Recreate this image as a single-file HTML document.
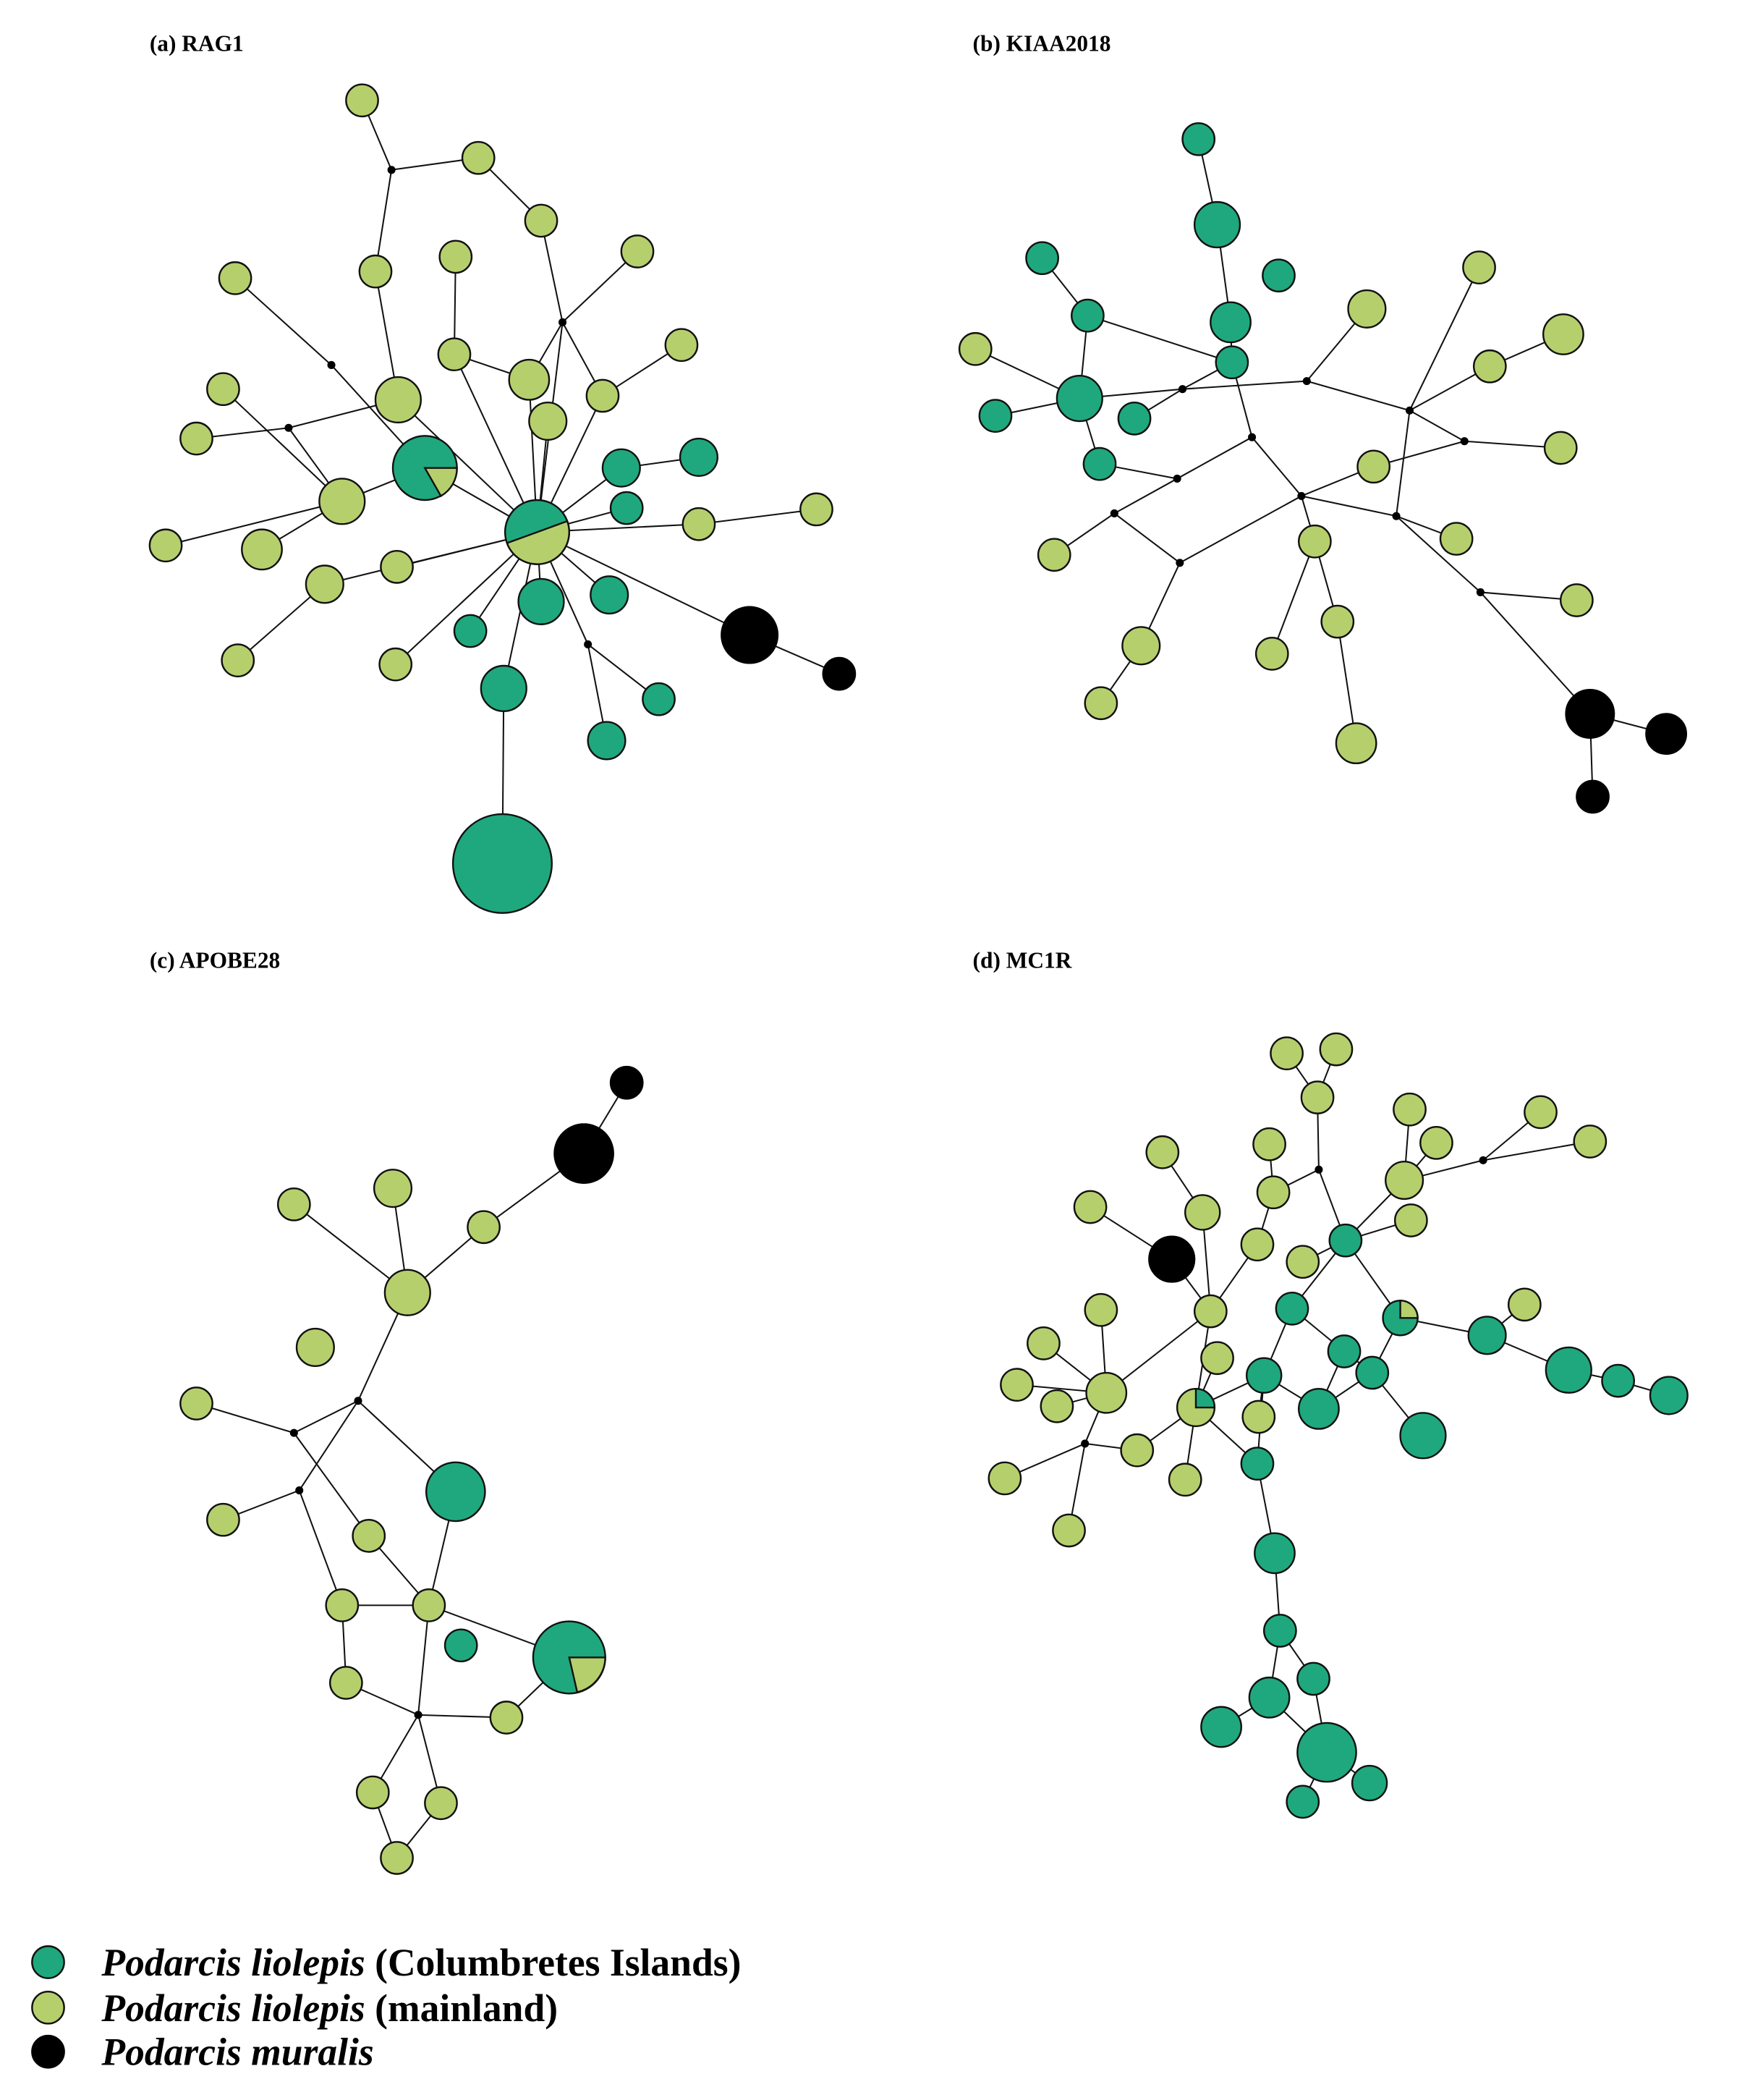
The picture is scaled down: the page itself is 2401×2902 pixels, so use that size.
<!DOCTYPE html>
<html><head><meta charset="utf-8"><style>
html,body{margin:0;padding:0;background:#fff;}
svg{display:block}
.l{fill:#b6cf6d;stroke:#111;stroke-width:1.3}
.t{fill:#1fa87d;stroke:#111;stroke-width:1.3}
.k{fill:#000;stroke:#000;stroke-width:1.3}
line{stroke:#111;stroke-width:1.1}
.j{fill:#000}
.title{font-family:"Liberation Serif",serif;font-weight:bold;font-size:17px}
.leg{font-family:"Liberation Serif",serif;font-weight:bold;font-size:29px}
</style></head><body>
<svg width="2401" height="2902" viewBox="0 0 1300 1571" xmlns="http://www.w3.org/2000/svg">
<text class="title" x="112" y="38">(a) RAG1</text>
<text class="title" x="728" y="38">(b) KIAA2018</text>
<text class="title" x="112" y="724">(c) APOBE28</text>
<text class="title" x="728" y="724">(d) MC1R</text>

<!-- panel a edges -->
<g>
<line x1="271" y1="75" x2="293" y2="127"/><line x1="293" y1="127" x2="358" y2="118"/><line x1="358" y1="118" x2="405" y2="165"/>
<line x1="293" y1="127" x2="281" y2="203"/><line x1="281" y1="203" x2="298" y2="299"/><line x1="405" y1="165" x2="421" y2="241"/>
<line x1="421" y1="241" x2="477" y2="188"/><line x1="421" y1="241" x2="396" y2="284"/><line x1="421" y1="241" x2="451" y2="296"/>
<line x1="421" y1="241" x2="402" y2="398"/><line x1="341" y1="192" x2="340" y2="265"/><line x1="340" y1="265" x2="396" y2="284"/>
<line x1="340" y1="265" x2="402" y2="398"/><line x1="176" y1="208" x2="248" y2="273"/><line x1="248" y1="273" x2="318" y2="350"/>
<line x1="167" y1="291" x2="256" y2="375"/><line x1="216" y1="320" x2="147" y2="328"/><line x1="216" y1="320" x2="256" y2="375"/>
<line x1="216" y1="320" x2="298" y2="299"/><line x1="124" y1="408" x2="256" y2="375"/><line x1="196" y1="411" x2="256" y2="375"/>
<line x1="256" y1="375" x2="318" y2="350"/><line x1="318" y1="350" x2="402" y2="398"/><line x1="243" y1="437" x2="402" y2="398"/>
<line x1="297" y1="424" x2="402" y2="398"/><line x1="178" y1="494" x2="243" y2="437"/><line x1="296" y1="497" x2="402" y2="398"/>
<line x1="352" y1="472" x2="402" y2="398"/><line x1="377" y1="515" x2="402" y2="398"/><line x1="376" y1="646" x2="377" y2="515"/>
<line x1="405" y1="450" x2="402" y2="398"/><line x1="456" y1="445" x2="402" y2="398"/><line x1="440" y1="482" x2="402" y2="398"/>
<line x1="440" y1="482" x2="454" y2="554"/><line x1="440" y1="482" x2="493" y2="523"/><line x1="561" y1="475" x2="402" y2="398"/>
<line x1="561" y1="475" x2="628" y2="504"/><line x1="523" y1="392" x2="402" y2="398"/><line x1="611" y1="381" x2="523" y2="392"/>
<line x1="465" y1="350" x2="402" y2="398"/><line x1="465" y1="350" x2="523" y2="342"/><line x1="469" y1="380" x2="402" y2="398"/>
<line x1="510" y1="258" x2="451" y2="296"/><line x1="451" y1="296" x2="402" y2="398"/><line x1="410" y1="315" x2="402" y2="398"/>
<line x1="396" y1="284" x2="402" y2="398"/><line x1="298" y1="299" x2="402" y2="398"/>
</g>
<g class="j"><circle cx="293" cy="127" r="3"/><circle cx="248" cy="273" r="3"/><circle cx="216" cy="320" r="3"/><circle cx="421" cy="241" r="3"/><circle cx="440" cy="482" r="3"/></g>
<g>
<circle class="l" cx="271" cy="75" r="12"/><circle class="l" cx="358" cy="118" r="12"/><circle class="l" cx="405" cy="165" r="12"/>
<circle class="l" cx="176" cy="208" r="12"/><circle class="l" cx="281" cy="203" r="12"/><circle class="l" cx="341" cy="192" r="12"/>
<circle class="l" cx="477" cy="188" r="12"/><circle class="l" cx="510" cy="258" r="12"/><circle class="l" cx="340" cy="265" r="12"/>
<circle class="l" cx="396" cy="284" r="15"/><circle class="l" cx="451" cy="296" r="12"/><circle class="l" cx="410" cy="315" r="14"/>
<circle class="l" cx="298" cy="299" r="17"/><circle class="l" cx="167" cy="291" r="12"/><circle class="l" cx="147" cy="328" r="12"/>
<circle class="l" cx="256" cy="375" r="17"/><circle class="l" cx="124" cy="408" r="12"/><circle class="l" cx="196" cy="411" r="15"/>
<circle class="l" cx="243" cy="437" r="14"/><circle class="l" cx="297" cy="424" r="12"/><circle class="l" cx="178" cy="494" r="12"/>
<circle class="l" cx="296" cy="497" r="12"/><circle class="l" cx="523" cy="392" r="12"/><circle class="l" cx="611" cy="381" r="12"/>
<circle class="t" cx="465" cy="350" r="14"/><circle class="t" cx="523" cy="342" r="14"/><circle class="t" cx="469" cy="380" r="12"/>
<circle class="t" cx="405" cy="450" r="17"/><circle class="t" cx="456" cy="445" r="14"/><circle class="t" cx="352" cy="472" r="12"/>
<circle class="t" cx="377" cy="515" r="17"/><circle class="t" cx="493" cy="523" r="12"/><circle class="t" cx="454" cy="554" r="14"/>
<circle class="t" cx="376" cy="646" r="37"/>
<circle class="k" cx="561" cy="475" r="21"/><circle class="k" cx="628" cy="504" r="12"/>
<circle class="t" cx="402" cy="398" r="24"/><path class="l" d="M378,398 A24,24 0 0,0 426,398 L402,398 Z" transform="rotate(-20 402 398)"/>
<circle class="t" cx="318" cy="350" r="24"/><path class="l" d="M318,350 L342,350 A24,24 0 0,1 330,371 Z"/>
</g>

<!-- panel b -->
<g>
<line x1="897" y1="104" x2="911" y2="168"/><line x1="911" y1="168" x2="921" y2="241"/><line x1="921" y1="241" x2="922" y2="271"/>
<line x1="780" y1="193" x2="814" y2="236"/><line x1="814" y1="236" x2="808" y2="298"/><line x1="814" y1="236" x2="922" y2="271"/>
<line x1="730" y1="261" x2="808" y2="298"/><line x1="745" y1="311" x2="808" y2="298"/><line x1="808" y1="298" x2="885" y2="291"/>
<line x1="849" y1="313" x2="885" y2="291"/><line x1="808" y1="298" x2="823" y2="347"/><line x1="823" y1="347" x2="881" y2="358"/>
<line x1="885" y1="291" x2="922" y2="271"/><line x1="885" y1="291" x2="978" y2="285"/><line x1="978" y1="285" x2="1023" y2="231"/>
<line x1="978" y1="285" x2="1055" y2="307"/><line x1="1055" y1="307" x2="1107" y2="200"/><line x1="1055" y1="307" x2="1115" y2="274"/>
<line x1="1115" y1="274" x2="1170" y2="250"/><line x1="1055" y1="307" x2="1096" y2="330"/><line x1="1096" y1="330" x2="1168" y2="335"/>
<line x1="1096" y1="330" x2="1028" y2="349"/><line x1="1055" y1="307" x2="1045" y2="386"/><line x1="937" y1="327" x2="881" y2="358"/>
<line x1="881" y1="358" x2="834" y2="384"/><line x1="834" y1="384" x2="789" y2="415"/><line x1="834" y1="384" x2="883" y2="421"/>
<line x1="883" y1="421" x2="974" y2="371"/><line x1="883" y1="421" x2="854" y2="483"/><line x1="854" y1="483" x2="824" y2="526"/>
<line x1="937" y1="327" x2="974" y2="371"/><line x1="974" y1="371" x2="1045" y2="386"/><line x1="974" y1="371" x2="984" y2="405"/>
<line x1="984" y1="405" x2="952" y2="489"/><line x1="984" y1="405" x2="1001" y2="465"/><line x1="1001" y1="465" x2="1015" y2="556"/>
<line x1="1045" y1="386" x2="1090" y2="403"/><line x1="1045" y1="386" x2="1108" y2="443"/><line x1="1108" y1="443" x2="1180" y2="449"/>
<line x1="1108" y1="443" x2="1190" y2="534"/><line x1="1190" y1="534" x2="1247" y2="549"/><line x1="1190" y1="534" x2="1192" y2="596"/>
<line x1="937" y1="327" x2="922" y2="271"/><line x1="1028" y1="349" x2="974" y2="371"/>
</g>
<g class="j"><circle cx="885" cy="291" r="3"/><circle cx="978" cy="285" r="3"/><circle cx="1055" cy="307" r="3"/><circle cx="937" cy="327" r="3"/><circle cx="881" cy="358" r="3"/><circle cx="1096" cy="330" r="3"/><circle cx="974" cy="371" r="3"/><circle cx="834" cy="384" r="3"/><circle cx="1045" cy="386" r="3"/><circle cx="883" cy="421" r="3"/><circle cx="1108" cy="443" r="3"/></g>
<g>
<circle class="t" cx="897" cy="104" r="12"/><circle class="t" cx="911" cy="168" r="17"/><circle class="t" cx="780" cy="193" r="12"/>
<circle class="t" cx="957" cy="206" r="12"/><circle class="t" cx="814" cy="236" r="12"/><circle class="t" cx="921" cy="241" r="15"/>
<circle class="t" cx="922" cy="271" r="12"/><circle class="t" cx="808" cy="298" r="17"/><circle class="t" cx="745" cy="311" r="12"/>
<circle class="t" cx="849" cy="313" r="12"/><circle class="t" cx="823" cy="347" r="12"/>
<circle class="l" cx="730" cy="261" r="12"/><circle class="l" cx="1023" cy="231" r="14"/><circle class="l" cx="1107" cy="200" r="12"/>
<circle class="l" cx="1170" cy="250" r="15"/><circle class="l" cx="1115" cy="274" r="12"/><circle class="l" cx="1168" cy="335" r="12"/>
<circle class="l" cx="1028" cy="349" r="12"/><circle class="l" cx="789" cy="415" r="12"/><circle class="l" cx="984" cy="405" r="12"/>
<circle class="l" cx="1090" cy="403" r="12"/><circle class="l" cx="1001" cy="465" r="12"/><circle class="l" cx="1180" cy="449" r="12"/>
<circle class="l" cx="854" cy="483" r="14"/><circle class="l" cx="952" cy="489" r="12"/><circle class="l" cx="824" cy="526" r="12"/>
<circle class="l" cx="1015" cy="556" r="15"/>
<circle class="k" cx="1190" cy="534" r="18"/><circle class="k" cx="1247" cy="549" r="15"/><circle class="k" cx="1192" cy="596" r="12"/>
</g>

<!-- panel c -->
<g>
<line x1="469" y1="810" x2="437" y2="863"/><line x1="437" y1="863" x2="362" y2="918"/><line x1="362" y1="918" x2="305" y2="967"/>
<line x1="294" y1="889" x2="305" y2="967"/><line x1="220" y1="901" x2="305" y2="967"/><line x1="305" y1="967" x2="268" y2="1048"/>
<line x1="268" y1="1048" x2="220" y2="1072"/><line x1="220" y1="1072" x2="147" y2="1050"/><line x1="268" y1="1048" x2="224" y2="1115"/>
<line x1="224" y1="1115" x2="167" y2="1137"/><line x1="268" y1="1048" x2="341" y2="1116"/><line x1="341" y1="1116" x2="321" y2="1201"/>
<line x1="224" y1="1115" x2="256" y2="1201"/><line x1="220" y1="1072" x2="276" y2="1149"/><line x1="276" y1="1149" x2="321" y2="1201"/>
<line x1="256" y1="1201" x2="321" y2="1201"/><line x1="256" y1="1201" x2="259" y2="1259"/><line x1="321" y1="1201" x2="426" y2="1240"/>
<line x1="321" y1="1201" x2="313" y2="1283"/><line x1="313" y1="1283" x2="259" y2="1259"/><line x1="313" y1="1283" x2="379" y2="1285"/>
<line x1="379" y1="1285" x2="426" y2="1240"/><line x1="313" y1="1283" x2="279" y2="1341"/><line x1="313" y1="1283" x2="330" y2="1349"/>
<line x1="279" y1="1341" x2="297" y2="1390"/><line x1="330" y1="1349" x2="297" y2="1390"/>
</g>
<g class="j"><circle cx="268" cy="1048" r="3"/><circle cx="220" cy="1072" r="3"/><circle cx="224" cy="1115" r="3"/><circle cx="313" cy="1283" r="3"/></g>
<g>
<circle class="k" cx="437" cy="863" r="22"/><circle class="k" cx="469" cy="810" r="12"/>
<circle class="l" cx="220" cy="901" r="12"/><circle class="l" cx="294" cy="889" r="14"/><circle class="l" cx="362" cy="918" r="12"/>
<circle class="l" cx="305" cy="967" r="17"/><circle class="l" cx="236" cy="1008" r="14"/><circle class="l" cx="147" cy="1050" r="12"/>
<circle class="l" cx="167" cy="1137" r="12"/><circle class="l" cx="276" cy="1149" r="12"/><circle class="l" cx="256" cy="1201" r="12"/>
<circle class="l" cx="321" cy="1201" r="12"/><circle class="l" cx="259" cy="1259" r="12"/><circle class="l" cx="379" cy="1285" r="12"/>
<circle class="l" cx="279" cy="1341" r="12"/><circle class="l" cx="330" cy="1349" r="12"/><circle class="l" cx="297" cy="1390" r="12"/>
<circle class="t" cx="341" cy="1116" r="22"/><circle class="t" cx="345" cy="1231" r="12"/>
<circle class="t" cx="426" cy="1240" r="27"/><path class="l" d="M426,1240 L453,1240 A27,27 0 0,1 432,1266 Z"/>
</g>

<!-- panel d -->
<g>
<line x1="963" y1="788" x2="986" y2="821"/><line x1="1000" y1="785" x2="986" y2="821"/><line x1="986" y1="821" x2="987" y2="875"/>
<line x1="987" y1="875" x2="1007" y2="928"/><line x1="987" y1="875" x2="953" y2="892"/><line x1="950" y1="856" x2="953" y2="892"/>
<line x1="953" y1="892" x2="941" y2="931"/><line x1="941" y1="931" x2="906" y2="981"/><line x1="870" y1="862" x2="900" y2="907"/>
<line x1="900" y1="907" x2="906" y2="981"/><line x1="816" y1="903" x2="877" y2="942"/><line x1="877" y1="942" x2="906" y2="981"/>
<line x1="1055" y1="830" x2="1051" y2="883"/><line x1="1075" y1="855" x2="1051" y2="883"/><line x1="1051" y1="883" x2="1007" y2="928"/>
<line x1="1153" y1="832" x2="1110" y2="868"/><line x1="1190" y1="854" x2="1110" y2="868"/><line x1="1110" y1="868" x2="1051" y2="883"/>
<line x1="1056" y1="913" x2="1007" y2="928"/><line x1="975" y1="944" x2="1007" y2="928"/><line x1="1007" y1="928" x2="967" y2="979"/>
<line x1="1007" y1="928" x2="1048" y2="986"/><line x1="967" y1="979" x2="946" y2="1029"/><line x1="967" y1="979" x2="1006" y2="1011"/>
<line x1="1048" y1="986" x2="1113" y2="999"/><line x1="1113" y1="999" x2="1174" y2="1025"/><line x1="1174" y1="1025" x2="1211" y2="1033"/>
<line x1="1211" y1="1033" x2="1249" y2="1044"/><line x1="1141" y1="976" x2="1113" y2="999"/><line x1="1048" y1="986" x2="1027" y2="1027"/>
<line x1="1006" y1="1011" x2="1027" y2="1027"/><line x1="1006" y1="1011" x2="987" y2="1054"/><line x1="1027" y1="1027" x2="987" y2="1054"/>
<line x1="1027" y1="1027" x2="1065" y2="1074"/><line x1="946" y1="1029" x2="987" y2="1054"/><line x1="946" y1="1029" x2="941" y2="1095"/>
<line x1="906" y1="981" x2="895" y2="1053"/><line x1="895" y1="1053" x2="946" y2="1029"/><line x1="911" y1="1016" x2="895" y2="1053"/>
<line x1="895" y1="1053" x2="887" y2="1107"/><line x1="895" y1="1053" x2="941" y2="1095"/><line x1="895" y1="1053" x2="851" y2="1085"/>
<line x1="906" y1="981" x2="828" y2="1042"/><line x1="824" y1="980" x2="828" y2="1042"/><line x1="781" y1="1005" x2="828" y2="1042"/>
<line x1="761" y1="1036" x2="828" y2="1042"/><line x1="791" y1="1052" x2="828" y2="1042"/><line x1="828" y1="1042" x2="812" y2="1080"/>
<line x1="812" y1="1080" x2="752" y2="1106"/><line x1="812" y1="1080" x2="800" y2="1145"/><line x1="812" y1="1080" x2="851" y2="1085"/>
<line x1="941" y1="1095" x2="954" y2="1162"/><line x1="954" y1="1162" x2="958" y2="1220"/><line x1="958" y1="1220" x2="983" y2="1256"/>
<line x1="958" y1="1220" x2="950" y2="1270"/><line x1="950" y1="1270" x2="914" y2="1292"/><line x1="983" y1="1256" x2="993" y2="1311"/>
<line x1="950" y1="1270" x2="993" y2="1311"/><line x1="993" y1="1311" x2="1025" y2="1334"/><line x1="993" y1="1311" x2="975" y2="1348"/>
<line x1="942" y1="1060" x2="946" y2="1029"/>
</g>
<g class="j"><circle cx="987" cy="875" r="3"/><circle cx="1110" cy="868" r="3"/><circle cx="812" cy="1080" r="3"/><circle cx="953" cy="892" r="3"/></g>
<g>
<circle class="t" cx="1007" cy="928" r="12"/><circle class="t" cx="967" cy="979" r="12"/><circle class="t" cx="1113" cy="999" r="14"/>
<circle class="t" cx="1174" cy="1025" r="17"/><circle class="t" cx="1211" cy="1033" r="12"/><circle class="t" cx="1249" cy="1044" r="14"/>
<circle class="t" cx="1006" cy="1011" r="12"/><circle class="t" cx="1027" cy="1027" r="12"/><circle class="t" cx="946" cy="1029" r="13"/>
<circle class="t" cx="987" cy="1054" r="15"/><circle class="t" cx="1065" cy="1074" r="17"/><circle class="t" cx="941" cy="1095" r="12"/>
<circle class="t" cx="954" cy="1162" r="15"/><circle class="t" cx="958" cy="1220" r="12"/><circle class="t" cx="983" cy="1256" r="12"/>
<circle class="t" cx="950" cy="1270" r="15"/><circle class="t" cx="914" cy="1292" r="15"/><circle class="t" cx="993" cy="1311" r="22"/>
<circle class="t" cx="1025" cy="1334" r="13"/><circle class="t" cx="975" cy="1348" r="12"/>
<circle class="l" cx="963" cy="788" r="12"/><circle class="l" cx="1000" cy="785" r="12"/><circle class="l" cx="986" cy="821" r="12"/>
<circle class="l" cx="1055" cy="830" r="12"/><circle class="l" cx="1153" cy="832" r="12"/><circle class="l" cx="1075" cy="855" r="12"/>
<circle class="l" cx="1190" cy="854" r="12"/><circle class="l" cx="870" cy="862" r="12"/><circle class="l" cx="950" cy="856" r="12"/>
<circle class="l" cx="953" cy="892" r="12"/><circle class="l" cx="1051" cy="883" r="14"/><circle class="l" cx="816" cy="903" r="12"/>
<circle class="l" cx="900" cy="907" r="13"/><circle class="l" cx="1056" cy="913" r="12"/><circle class="l" cx="941" cy="931" r="12"/>
<circle class="l" cx="975" cy="944" r="12"/><circle class="l" cx="906" cy="981" r="12"/><circle class="l" cx="824" cy="980" r="12"/>
<circle class="l" cx="781" cy="1005" r="12"/><circle class="l" cx="911" cy="1016" r="12"/><circle class="l" cx="761" cy="1036" r="12"/>
<circle class="l" cx="791" cy="1052" r="12"/><circle class="l" cx="828" cy="1042" r="15"/><circle class="l" cx="942" cy="1060" r="12"/>
<circle class="l" cx="851" cy="1085" r="12"/><circle class="l" cx="752" cy="1106" r="12"/><circle class="l" cx="887" cy="1107" r="12"/>
<circle class="l" cx="800" cy="1145" r="12"/><circle class="l" cx="1141" cy="976" r="12"/>
<circle class="t" cx="1048" cy="986" r="13"/><path class="l" d="M1048,986 L1061,986 A13,13 0 0,0 1048,973 Z"/>
<circle class="l" cx="895" cy="1053" r="14"/><path class="t" d="M895,1053 L909,1053 A14,14 0 0,0 895,1039 Z"/>
<circle class="k" cx="877" cy="942" r="17"/>
</g>

<!-- legend -->
<circle class="t" cx="36" cy="1468" r="12" stroke="none"/>
<circle class="l" cx="36" cy="1502" r="12" stroke="none"/>
<circle class="k" cx="36" cy="1535" r="12"/>
<text class="leg" x="76" y="1478"><tspan font-style="italic">Podarcis liolepis</tspan> (Columbretes Islands)</text>
<text class="leg" x="76" y="1512"><tspan font-style="italic">Podarcis liolepis</tspan> (mainland)</text>
<text class="leg" x="76" y="1545" font-style="italic">Podarcis muralis</text>
</svg>
</body></html>
